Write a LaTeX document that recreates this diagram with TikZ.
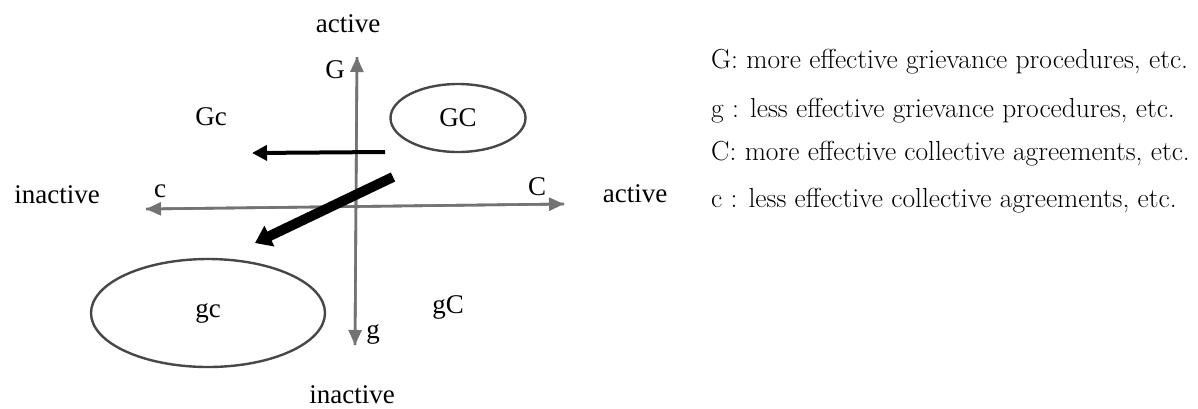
\documentclass[tikz,border=0pt]{standalone}
\usepackage{fontspec}
\newfontfamily\labelfont{Liberation Serif}
\usepackage{tikz}
\usetikzlibrary{shapes.geometric, arrows.meta, positioning, calc}

\begin{document}
\begin{tikzpicture}[
    x=1pt, y=-1pt,
    lbl/.style={font=\labelfont\fontsize{27}{30}\selectfont, inner sep=0pt, anchor=base},
    legend/.style={font=\fontsize{27.5}{30}\selectfont, inner sep=0pt, anchor=base west},
    region/.style={ellipse, draw=black!72, line width=2.4pt, inner sep=0pt, font=\labelfont\fontsize{27}{30}\selectfont},
    axis/.style={-{Triangle[length=15pt, width=13pt]}, draw=black!55, line width=2.6pt},
    move/.style={-{Triangle[length=15pt, width=15pt]}, line width=4pt},
    bigmove/.style={-{Triangle[length=16pt, width=22pt]}, line width=10pt},
]
\useasboundingbox (0,0) rectangle (1198,408);

% Axes
\coordinate (gtop) at (357,57);
\coordinate (gbot) at (355,345);
\coordinate (cleft) at (146,209);
\coordinate (cright) at (564,204);
\draw[axis] (gbot) -- (gtop);
\draw[axis] (gtop) -- (gbot);
\draw[axis] (cright) -- (cleft);
\draw[axis] (cleft) -- (cright);

% Axis labels
\node[lbl] (acttop) at (348,32) {active};
\node[lbl] (inactbot) at (352,403) {inactive};
\node[lbl] (inactleft) at (57,203) {inactive};
\node[lbl] (actright) at (635,202) {active};
\node[lbl] (Glbl) at (335,78) {G};
\node[lbl] (glbl) at (373,338) {g};
\node[lbl] (clbl) at (160,197) {c};
\node[lbl] (Clbl) at (537,195) {C};

% Quadrants
\node[region, minimum width=135pt, minimum height=68pt] (GC) at (458,118) {GC};
\node[region, minimum width=234pt, minimum height=108pt] (gc) at (208,313) {gc};
\node[lbl] (Gc) at (211,125) {Gc};
\node[lbl] (gC) at (448,313) {gC};

% Shifts
\coordinate (m1s) at (385,152);
\coordinate (m1e) at (252,153);
\draw[move] (m1s) -- (m1e);
\coordinate (m2s) at (393,177);
\coordinate (m2e) at (255,243);
\draw[bigmove] (m2s) -- (m2e);

% Legend
\node[legend] (legG) at (711,68) {G: more effective grievance procedures, etc.};
\node[legend] (legg) at (711,117) {g : less effective grievance procedures, etc.};
\node[legend] (legC) at (711,160) {C: more effective collective agreements, etc.};
\node[legend] (legc) at (711,207) {c : less effective collective agreements, etc.};

\end{tikzpicture}
\end{document}
